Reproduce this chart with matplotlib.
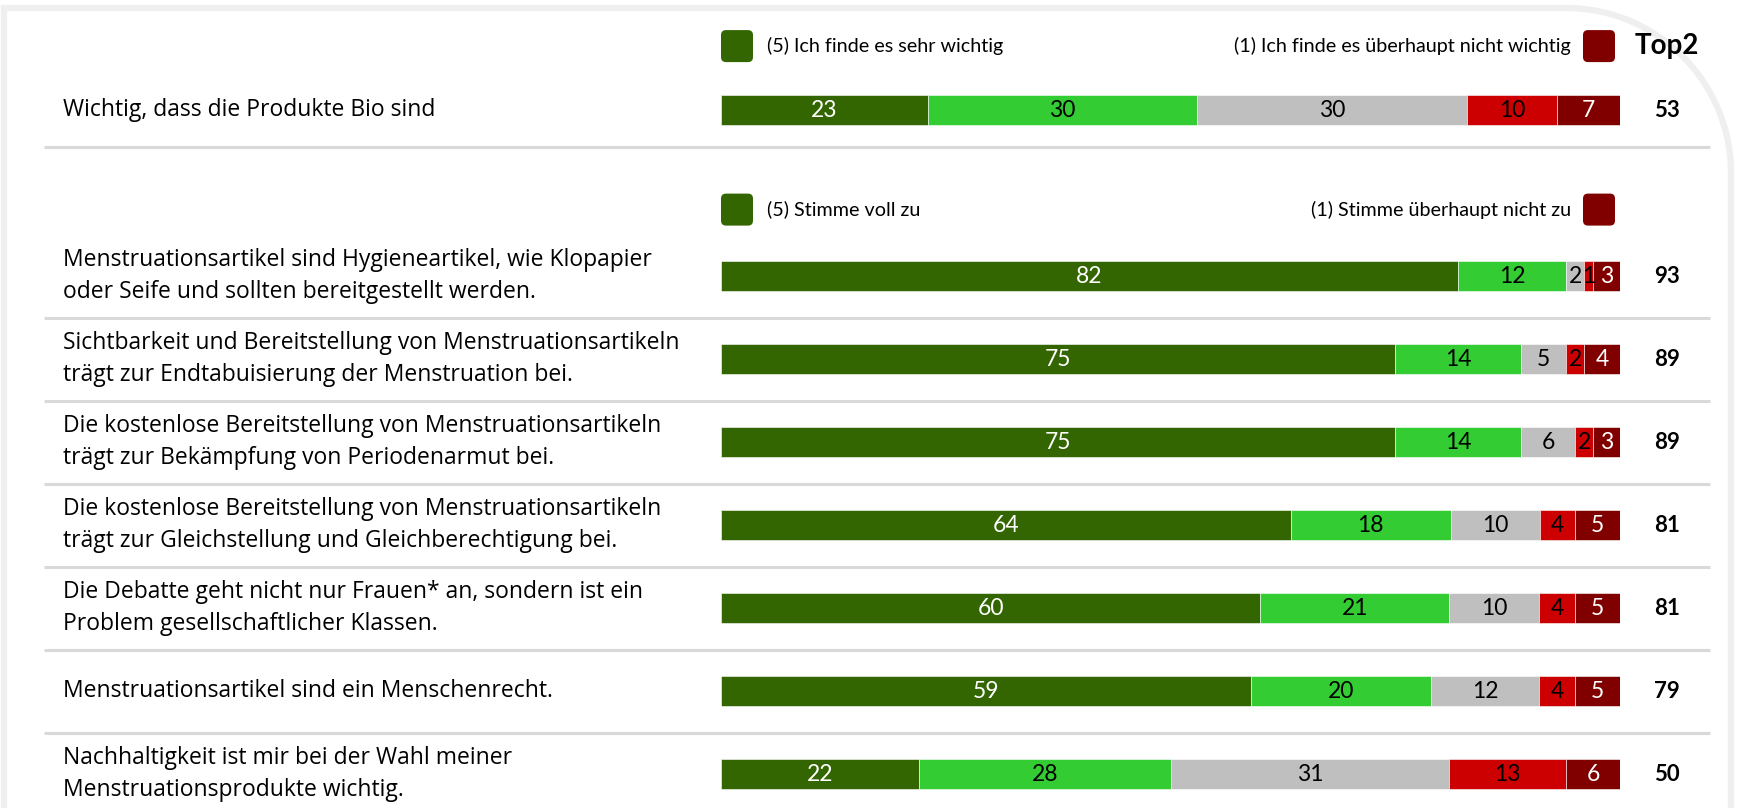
import numpy as np
import matplotlib.pyplot as plt
import matplotlib.transforms as mtransforms
from matplotlib.patches import FancyBboxPatch, PathPatch
from matplotlib.path import Path

W, H = 1737, 808

labels = [
    "Wichtig, dass die Produkte Bio sind",
    "Menstruationsartikel sind Hygieneartikel, wie Klopapier\noder Seife und sollten bereitgestellt werden.",
    "Sichtbarkeit und Bereitstellung von Menstruationsartikeln\nträgt zur Endtabuisierung der Menstruation bei.",
    "Die kostenlose Bereitstellung von Menstruationsartikeln\nträgt zur Bekämpfung von Periodenarmut bei.",
    "Die kostenlose Bereitstellung von Menstruationsartikeln\nträgt zur Gleichstellung und Gleichberechtigung bei.",
    "Die Debatte geht nicht nur Frauen* an, sondern ist ein\nProblem gesellschaftlicher Klassen.",
    "Menstruationsartikel sind ein Menschenrecht.",
    "Nachhaltigkeit ist mir bei der Wahl meiner\nMenstruationsprodukte wichtig.",
]
scale5 = [23, 82, 75, 75, 64, 60, 59, 22]
scale4 = [30, 12, 14, 14, 18, 21, 20, 28]
scale3 = [30, 2, 5, 6, 10, 10, 12, 31]
scale2 = [10, 1, 2, 2, 4, 4, 4, 13]
scale1 = [7, 3, 4, 3, 5, 5, 5, 6]
top2 = [53, 93, 89, 89, 81, 81, 79, 50]
row_pos = [0, 2, 3, 4, 5, 6, 7, 8]
sep_pos = [0.45, 2.5, 3.5, 4.5, 5.5, 6.5, 7.5]
legend_left = ["(5) Ich finde es sehr wichtig", "(5) Stimme voll zu"]
legend_right = ["(1) Ich finde es überhaupt nicht wichtig", "(1) Stimme überhaupt nicht zu"]
legend_pos = [-0.77, 1.2]

colors = ['#336600', '#33cc33', '#bfbfbf', '#cc0000', '#800000']
txt_colors = ['white', 'black', 'black', 'black', 'white']

NUM_FONT = ['Lato', 'DejaVu Sans']
LBL_FONT = ['Open Sans', 'DejaVu Sans']

# row index -> pixel y  (row spacing 83 px, first row at 110 px)
y0, slot = 110, 83
def to_px(i):
    return y0 + slot * i

fig = plt.figure(figsize=(W / 100, H / 100), dpi=100)

# background / decoration axes in pixel units
bg = fig.add_axes([0, 0, 1, 1])
bg.set_xlim(0, W)
bg.set_ylim(H, 0)
bg.axis('off')

# frame with rounded top-right corner
r, xr, yt, xl = 165, 1731, 8, 4
k = 0.552 * r
verts = [(xl, H + 20), (xl, yt), (xr - r, yt),
         (xr - r + k, yt), (xr, yt + r - k), (xr, yt + r),
         (xr, H + 20)]
codes = [Path.MOVETO, Path.LINETO, Path.LINETO,
         Path.CURVE4, Path.CURVE4, Path.CURVE4, Path.LINETO]
bg.add_patch(PathPatch(Path(verts, codes), fill=False, edgecolor='#efefef', lw=4.5))

# bar axes
bar_l, bar_r = 721, 1620
ax = fig.add_axes([bar_l / W, 0, (bar_r - bar_l) / W, 1])
ax.set_xlim(0, 100)
ax.set_ylim((H - y0) / slot, -y0 / slot)
ax.axis('off')
blend = mtransforms.blended_transform_factory(fig.transFigure, ax.transData)

data = np.array([scale5, scale4, scale3, scale2, scale1], dtype=float).T
widths = data / data.sum(axis=1, keepdims=True) * 100
lefts = np.cumsum(widths, axis=1) - widths

for j in range(5):
    ax.barh(row_pos, widths[:, j], left=lefts[:, j], height=0.36,
            color=colors[j], edgecolor='white', linewidth=0.4)
    for i, y in enumerate(row_pos):
        ax.text(lefts[i, j] + widths[i, j] / 2, y, str(int(data[i, j])),
                ha='center', va='center', color=txt_colors[j],
                fontsize=16.5, family=NUM_FONT)

# top2 column
for i, y in enumerate(row_pos):
    ax.text(1667 / W, y, str(top2[i]), transform=blend, ha='center', va='center',
            fontsize=16, fontweight='bold', family=NUM_FONT)
ax.text(1667 / W, legend_pos[0], "Top2", transform=blend, ha='center', va='center',
        fontsize=20, fontweight='bold', family=NUM_FONT)

# row labels
for i, y in enumerate(row_pos):
    ax.text(63 / W, y, labels[i], transform=blend, ha='left', va='center',
            fontsize=16.5, family=LBL_FONT, linespacing=1.42, color='black')

# separators
for s in sep_pos:
    ax.plot([44 / W, 1710 / W], [s, s], transform=blend, color='#d9d9d9',
            lw=2.2, clip_on=False, solid_capstyle='butt')

# legends
for k_, ly in enumerate(legend_pos):
    yc = to_px(ly)
    for x, c in [(721, colors[0]), (1583, colors[4])]:
        bg.add_patch(FancyBboxPatch((x, yc - 16), 32, 32,
                                    boxstyle='round,pad=0,rounding_size=5',
                                    facecolor=c, edgecolor='none'))
    ax.text(767 / W, ly, legend_left[k_], transform=blend, ha='left', va='center',
            fontsize=14.2, family=NUM_FONT)
    ax.text(1571 / W, ly, legend_right[k_], transform=blend, ha='right', va='center',
            fontsize=14.2, family=NUM_FONT)

fig.savefig('out.png', dpi=100, facecolor='white')
